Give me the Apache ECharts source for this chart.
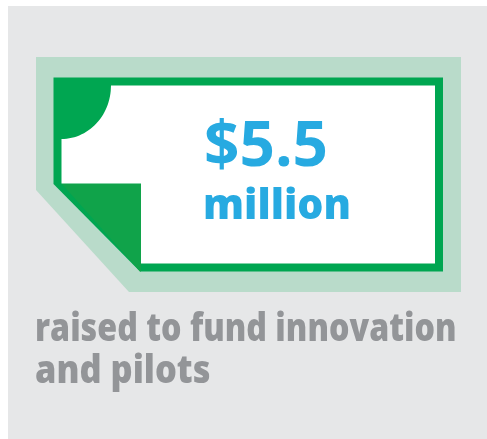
<!DOCTYPE html>
<html><head><meta charset="utf-8">
<style>html,body{margin:0;padding:0;background:#fff}#c{width:487px;height:439px}</style>
<script src="https://cdn.jsdelivr.net/npm/echarts@6/dist/echarts.min.js"></script>
</head><body><div id="c"></div>
<script>
var amountLabel = "$5.5";
var unitLabel = "million";
var captionLines = ["raised to fund innovation", "and pilots"];

var chart = echarts.init(document.getElementById('c'), null, {renderer:'canvas'});
var FONT = '"Open Sans", "Noto Sans", sans-serif';
function poly(pts, fill){ return {type:'polygon', silent:true, shape:{points:pts}, style:{fill:fill}}; }
function txt(s, x, y, size, fill, sx, w){
  return {type:'text', silent:true, x:x, y:y, scaleX:sx, originX:0,
    style:{text:s, x:0, y:0, fill:fill, font:(w||'bold')+' '+size+'px '+FONT, textAlign:'left', textBaseline:'middle', verticalAlign:'middle'}};
}
// white note face with a concave quarter-round top-left corner
var face = [[111,85.5],[435,85.5],[435,263.5],[141,263.5],[141,183.5],[61.5,183.5]];
for (var a = 0; a <= 84; a += 3) {
  var t = a*Math.PI/180;
  face.push([61.5 + 49.5*Math.sin(t), 85.5 + 53.5*Math.cos(t)]);
}
chart.setOption({
  animation:false,
  backgroundColor:'#ffffff',
  graphic:{elements:[
    {type:'rect', silent:true, shape:{x:8,y:6,width:479,height:433}, style:{fill:'#e6e7e8'}},
    poly([[36,57],[461,57],[461,292],[129,292],[36,190]], '#b9dbca'),
    poly([[53.5,77.5],[443,77.5],[443,271.5],[140,271.5],[53.5,184]], '#00a651'),
    poly([[61.5,183.5],[141,183.5],[141,271.5],[140,271.5]], '#10a34a'),
    poly(face, '#ffffff'),
    txt(amountLabel, 204, 148.5, 62, '#27aae1', 1, 'bold'),
    txt(unitLabel, 203, 207, 43, '#27aae1', 0.955, 800),
    txt(captionLines[0], 35, 330.5, 38, '#939598', 0.847, 800),
    txt(captionLines[1], 35, 372.5, 38, '#939598', 0.905, 800)
  ]}
});
</script></body></html>
